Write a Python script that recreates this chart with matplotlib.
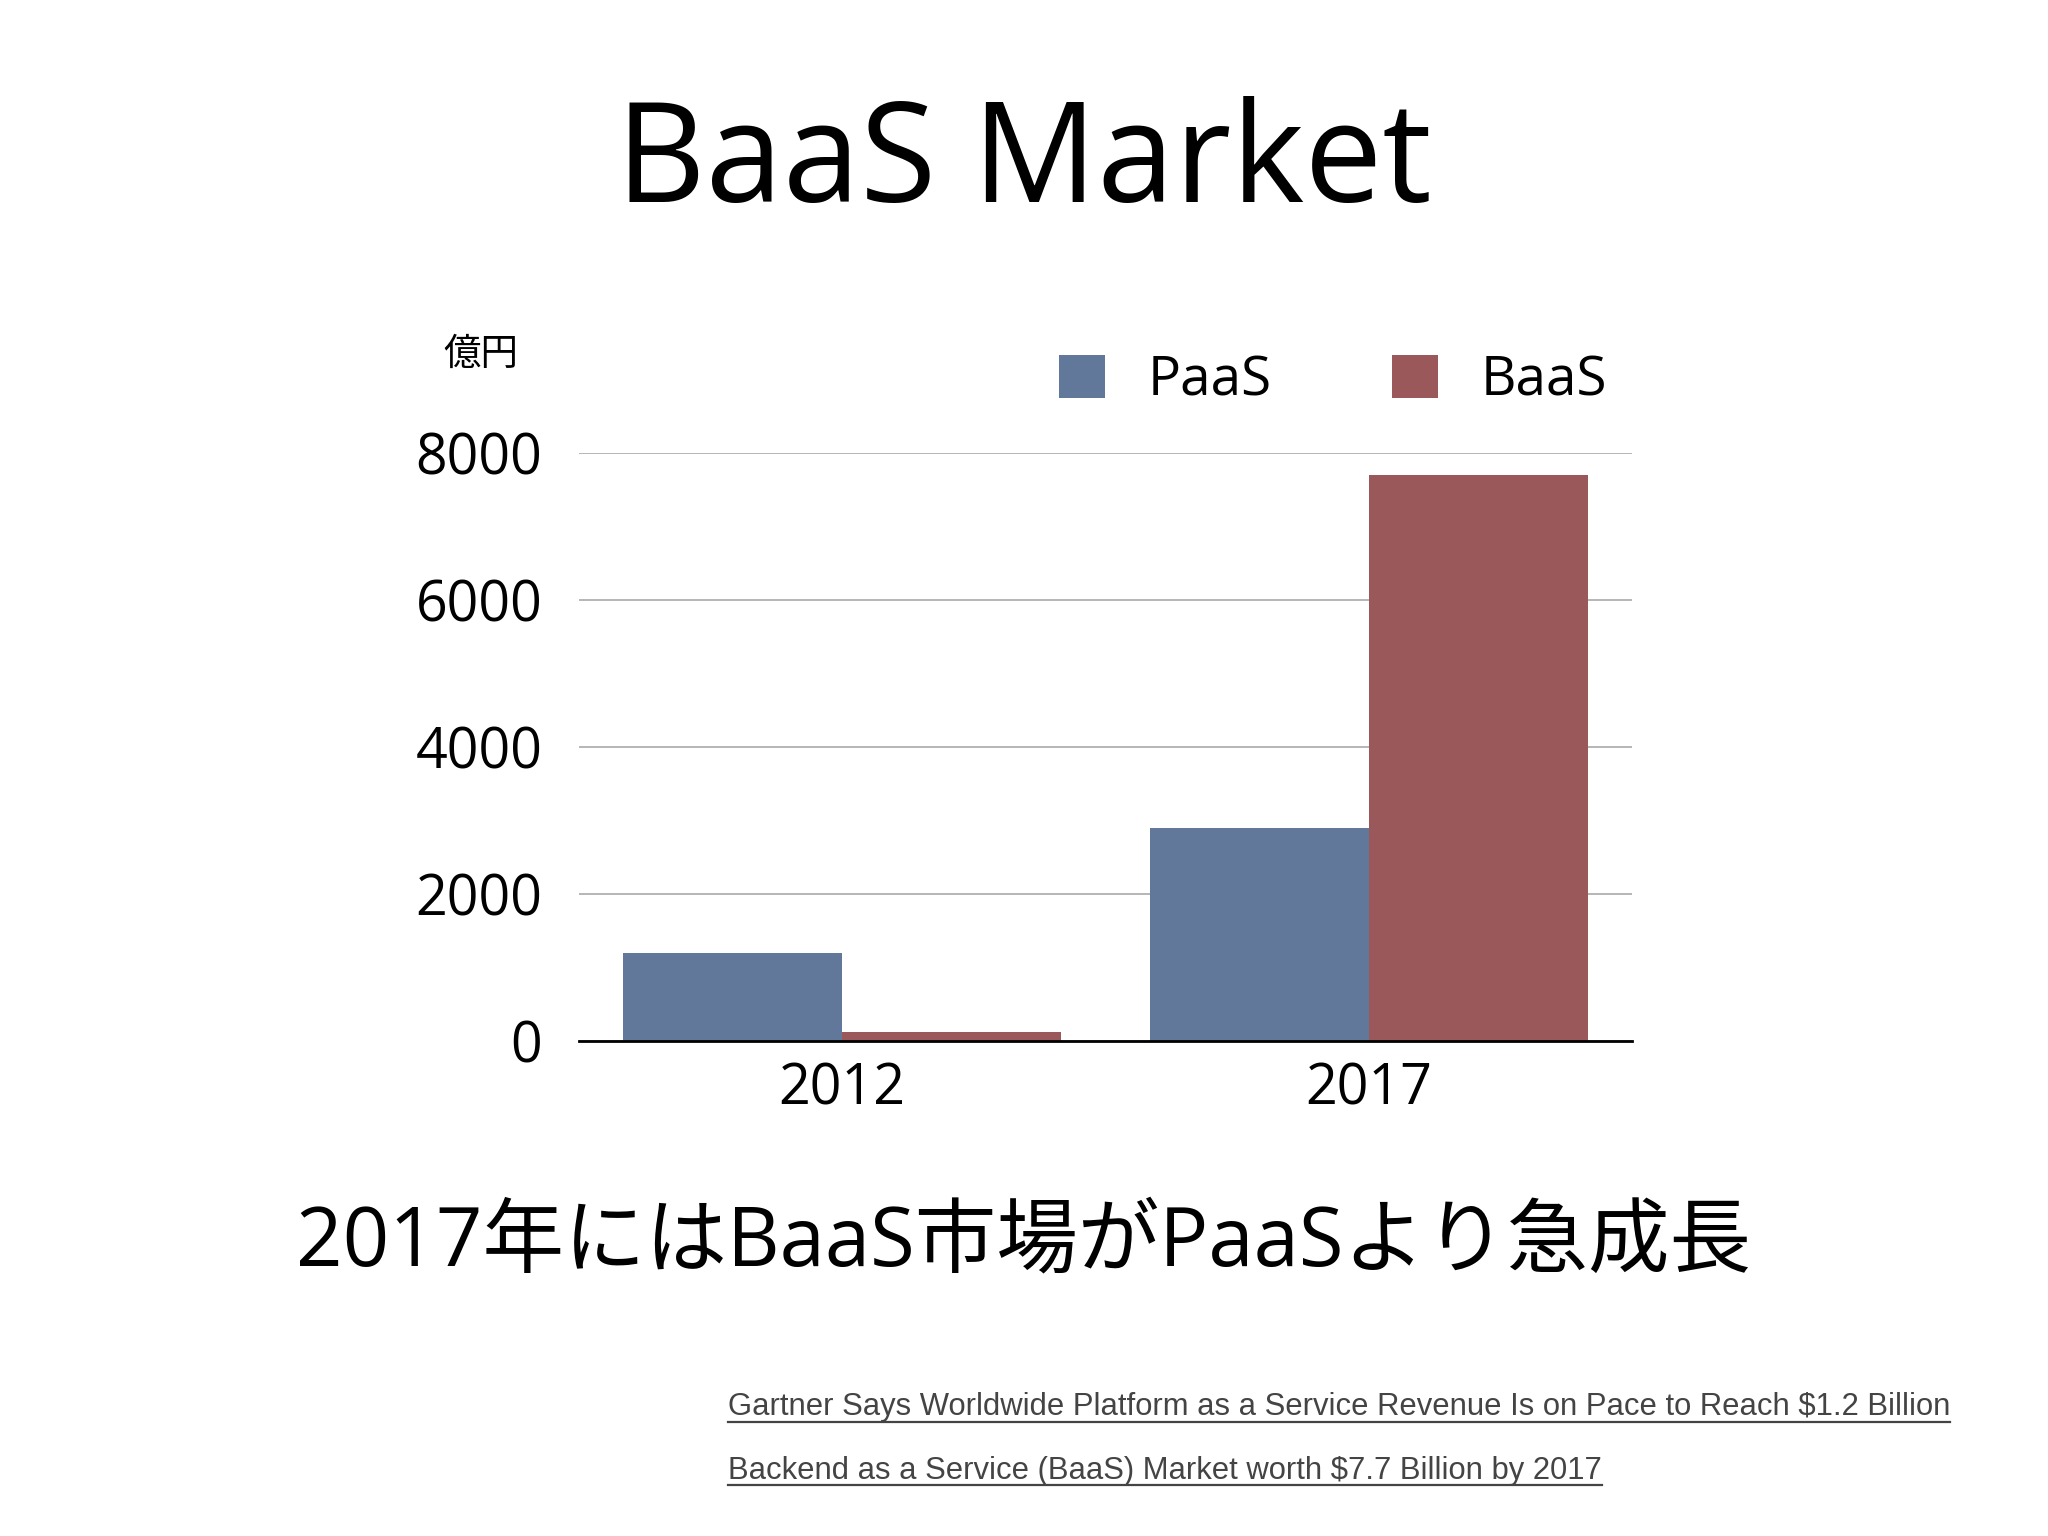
import matplotlib
matplotlib.use("Agg")
import matplotlib.pyplot as plt
from matplotlib.patches import Patch
from matplotlib.lines import Line2D
import numpy as np

# Chart data (億円)
years = ["2012", "2017"]
paas = [1200, 2900]
baas = [115, 7700]
series_names = ["PaaS", "BaaS"]
yticks = [0, 2000, 4000, 6000, 8000]

title = "BaaS Market"
unit_label = "億円"
headline = "2017年にはBaaS市場がPaaSより急成長"
sources = [
    "Gartner Says Worldwide Platform as a Service Revenue Is on Pace to Reach $1.2 Billion",
    "Backend as a Service (BaaS) Market worth $7.7 Billion by 2017",
]

paas_color = "#61789a"
baas_color = "#9a585b"

plt.rcParams["font.family"] = ["Open Sans", "Noto Sans CJK JP", "DejaVu Sans"]

fig = plt.figure(figsize=(20.48, 15.36), dpi=100)
fig.patch.set_facecolor("white")
ax = fig.add_axes([0.2825, 0.3223, 0.5145, 0.3827])

x = np.arange(len(years))
w = 0.416
ax.bar(x - w / 2, paas, width=w, color=paas_color, zorder=3)
ax.bar(x + w / 2, baas, width=w, color=baas_color, zorder=3)

ax.set_xlim(-0.5, 1.5)
ax.set_ylim(0, 8000)
ax.set_yticks(yticks)
ax.set_yticklabels([str(v) for v in yticks])
ax.set_xticks(x)
ax.set_xticklabels(years)
ax.tick_params(axis="both", length=0, labelsize=40)
ax.tick_params(axis="y", pad=26)
ax.tick_params(axis="x", pad=15)
ax.grid(axis="y", color="#b0b0b0", linewidth=1.3, zorder=0)
for s in ["top", "right", "left"]:
    ax.spines[s].set_visible(False)
ax.spines["bottom"].set_linewidth(2)
ax.spines["bottom"].set_color("black")
ax.spines["bottom"].set_zorder(4)

# legend
handles = [Patch(facecolor=paas_color), Patch(facecolor=baas_color)]
fig.legend(handles, series_names, loc="center left", bbox_to_anchor=(0.517, 0.752),
           ncol=2, frameon=False, fontsize=39.5, handlelength=0.84, handleheight=0.84,
           handletextpad=0.77, columnspacing=2.2, borderpad=0, borderaxespad=0)

# texts
fig.text(0.5, 0.892, title, ha="center", va="center", fontsize=100)
fig.text(0.2165, 0.769, unit_label, ha="left", va="center", fontsize=27,
         family=["Noto Sans CJK JP", "DejaVu Sans"])
fig.text(0.5, 0.190, headline, ha="center", va="center", fontsize=58.7)

src_y = [0.0785, 0.037]
src_texts = []
for s, yy in zip(sources, src_y):
    t = fig.text(0.3555, yy, s, ha="left", va="baseline", fontsize=22.3,
                 color="#444444", family=["Liberation Sans", "DejaVu Sans"])
    src_texts.append(t)

fig.canvas.draw()
r = fig.canvas.get_renderer()
for t in src_texts:
    bb = t.get_window_extent(renderer=r).transformed(fig.transFigure.inverted())
    _, yb = t.get_position()
    fig.add_artist(Line2D([bb.x0, bb.x1], [yb - 0.004, yb - 0.004],
                          transform=fig.transFigure, color="#444444", linewidth=1.6))

fig.savefig("out.png", dpi=100)
